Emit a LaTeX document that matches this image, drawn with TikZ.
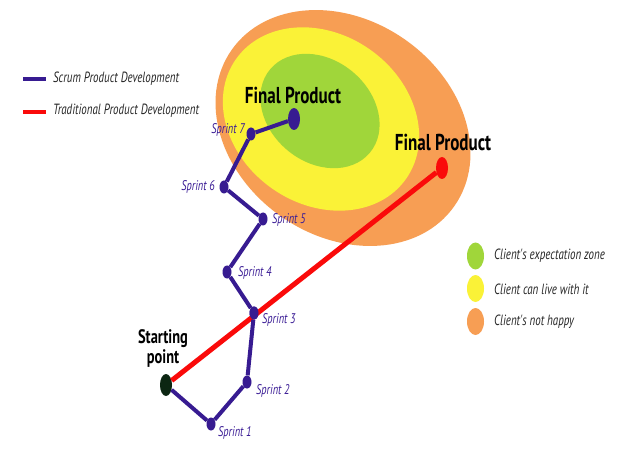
\documentclass[tikz,border=0pt]{standalone}
\usepackage{fontspec}
\setmainfont{PT Sans}
\newfontfamily\cond{PT Sans}[FakeStretch=0.74]
\usetikzlibrary{shapes.geometric}
\definecolor{cOrange}{RGB}{247,158,84}
\definecolor{cYellow}{RGB}{250,242,55}
\definecolor{cGreen}{RGB}{160,214,58}
\definecolor{cBlue}{RGB}{55,27,145}
\definecolor{cLabel}{RGB}{60,30,150}
\definecolor{cRed}{RGB}{250,10,10}
\definecolor{cStart}{RGB}{12,38,18}
\tikzset{
  sdot/.style={ellipse,fill=cBlue,inner sep=0pt,minimum width=9pt,minimum height=13pt},
  bigdot/.style={ellipse,inner sep=0pt,minimum width=12pt,minimum height=22pt},
  legdot/.style={ellipse,inner sep=0pt,minimum width=17pt,minimum height=27pt},
  scrum/.style={draw=cBlue,line width=4pt},
  trad/.style={draw=cRed,line width=5pt},
  slabel/.style={inner sep=0pt,text=cLabel,font=\cond\itshape\fontsize{14}{16}\selectfont},
  final/.style={inner sep=0pt,text=black,font=\cond\bfseries\fontsize{23}{25}\selectfont},
  legtext/.style={inner sep=0pt,anchor=west,text=black!85,font=\cond\itshape\fontsize{14.8}{16}\selectfont},
}
\begin{document}
\begin{tikzpicture}[x=1pt,y=-1pt]
\fill[white] (0,0) rectangle (640,465);
\useasboundingbox (0,0) rectangle (640,465);
% zones
\fill[cOrange, rotate around={-35:(343,128)}] (343,128) ellipse [x radius=136pt, y radius=108pt];
\fill[cYellow, rotate around={-35:(321,119)}] (321,119) ellipse [x radius=104pt, y radius=85pt];
\fill[cGreen, rotate around={-40:(320,111)}] (320,111) ellipse [x radius=65pt, y radius=51pt];
% points
\node[bigdot,fill=cStart] (start) at (166,385) {};
\node[bigdot,fill=cRed] (tend) at (442,168) {};
\node[bigdot,fill=cBlue] (send) at (294,119) {};
\node[sdot] (s1) at (211,424) {};
\node[sdot] (s2) at (247,382) {};
\node[sdot] (s3) at (254,313) {};
\node[sdot] (s4) at (227,272) {};
\node[sdot] (s5) at (263,219) {};
\node[sdot] (s6) at (224,187) {};
\node[sdot] (s7) at (251,134) {};
% paths
\draw[trad] (start) -- (tend);
\draw[scrum] (start) -- (s1) -- (s2) -- (s3) -- (s4) -- (s5) -- (s6) -- (s7) -- (send);
\node[sdot] at (s3) {};
% labels
\node[slabel,anchor=east] (l7) at (245,130) {Sprint 7};
\node[slabel,anchor=east] (l6) at (215,187) {Sprint 6};
\node[slabel,anchor=west] (l5) at (272,220) {Sprint 5};
\node[slabel,anchor=west] (l4) at (238,273) {Sprint 4};
\node[slabel,anchor=west] (l3) at (262,320) {Sprint 3};
\node[slabel,anchor=west] (l2) at (256,391) {Sprint 2};
\node[slabel,anchor=west] (l1) at (218,433) {Sprint 1};
\node[final] (fp1) at (293,95) {Final Product};
\node[final] (fp2) at (443,142) {Final Product};
\node[final,align=center,font=\cond\bfseries\fontsize{19.5}{20}\selectfont] (sp) at (163,348) {Starting\\point};
% legend top-left
\draw[scrum,line width=4.5pt] (23,79) -- (46,79);
\node[legtext] (ls) at (53,79) {Scrum Product Development};
\draw[trad,line width=4.5pt] (23,112) -- (46,112);
\node[legtext] (lt) at (53,111) {Traditional Product Development};
% legend right
\node[legdot,fill=cGreen] (dg) at (475.5,256) {};
\node[legdot,fill=cYellow] (dy) at (475.5,288.5) {};
\node[legdot,fill=cOrange] (do) at (475.5,321.5) {};
\node[legtext] (tg) at (494,256) {Client's expectation zone};
\node[legtext] (ty) at (494,289) {Client can live with it};
\node[legtext] (to) at (494,322) {Client's not happy};
\end{tikzpicture}
\end{document}
